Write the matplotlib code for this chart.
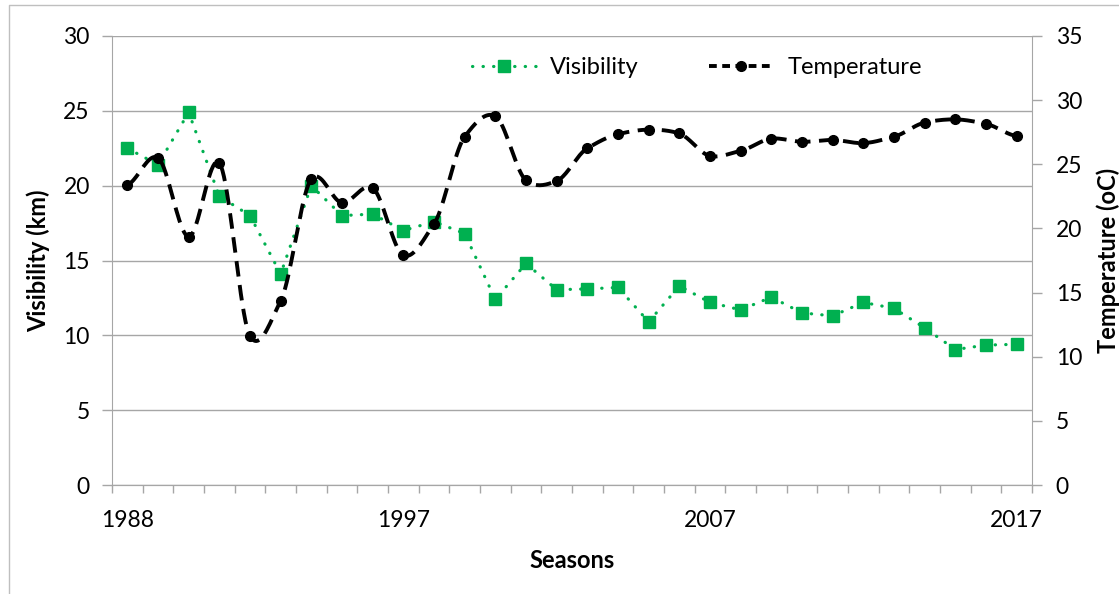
import matplotlib
matplotlib.use("Agg")
import matplotlib.pyplot as plt
from matplotlib.lines import Line2D
import numpy as np

plt.rcParams['font.family'] = ['Lato', 'DejaVu Sans']

seasons = list(range(1988, 2018))
visibility = [22.5, 21.4, 24.9, 19.3, 18.0, 14.1, 20.0, 18.0, 18.1, 17.0,
              17.6, 16.8, 12.4, 14.8, 13.05, 13.1, 13.2, 10.9, 13.3, 12.2,
              11.7, 12.55, 11.5, 11.3, 12.2, 11.8, 10.5, 9.05, 9.35, 9.4]
temperature = [23.4, 25.5, 19.35, 25.1, 11.6, 14.35, 23.85, 22.0, 23.15, 17.9,
               20.35, 27.15, 28.75, 23.75, 23.7, 26.25, 27.35, 27.7, 27.4, 25.65,
               26.05, 27.0, 26.75, 26.9, 26.65, 27.15, 28.25, 28.5, 28.15, 27.2]
tick_years = [1988, 1997, 2007, 2017]

GREEN = '#00B050'
GRID = '#A6A6A6'


def smooth(y, n=20, k=0.75):
    # hermite curve through the points, like excel's "smoothed line"
    y = np.asarray(y, float)
    p = np.concatenate([[y[0]], y, [y[-1]]])
    m = k * (p[2:] - p[:-2]) / 2
    xs, ys = [], []
    for i in range(len(y) - 1):
        t = np.linspace(0, 1, n, endpoint=False)
        h00 = 2 * t**3 - 3 * t**2 + 1
        h10 = t**3 - 2 * t**2 + t
        h01 = -2 * t**3 + 3 * t**2
        h11 = t**3 - t**2
        ys.append(h00 * y[i] + h10 * m[i] + h01 * y[i + 1] + h11 * m[i + 1])
        xs.append(i + t)
    xs.append([len(y) - 1])
    ys.append([y[-1]])
    return np.concatenate(xs), np.concatenate(ys)


x = np.arange(len(seasons))

fig = plt.figure(figsize=(11.19, 5.94), dpi=100)
ax = fig.add_axes([112 / 1119, 1 - 485 / 594, 920 / 1119, 449 / 594])
ax2 = ax.twinx()

ax.plot(x, visibility, color=GREEN, lw=2.3, linestyle=(0, (0.1, 3.2)),
        dash_capstyle='round', marker='s', markersize=8, zorder=3)

sx, sy = smooth(temperature)
ax2.plot(sx, sy, color='black', lw=2.8, linestyle=(0, (4.0, 2.2)), zorder=3)
ax2.plot(x, temperature, 'o', color='black', markersize=7, zorder=4)

ax.set_xlim(-0.5, len(seasons) - 0.5)
ax.set_ylim(0, 30)
ax2.set_ylim(0, 35)
ax.set_yticks(range(0, 31, 5))
ax2.set_yticks(range(0, 36, 5))

ax.set_xticks(np.arange(len(seasons) + 1) - 0.5, minor=False)
ax.set_xticklabels([])
ax.set_xticks([seasons.index(t) for t in tick_years], minor=True)
ax.set_xticklabels([str(t) for t in tick_years], minor=True)
ax.tick_params(axis='x', which='major', length=6, width=1, color=GRID)
ax.tick_params(axis='x', which='minor', length=0, pad=18, labelsize=16.5)
ax.tick_params(axis='y', length=7, width=1, color=GRID, labelsize=16.5, pad=9)
ax2.tick_params(axis='y', length=7, width=1, color=GRID, labelsize=16.5, pad=10)

ax.yaxis.grid(True, color=GRID, lw=1)
ax.set_axisbelow(True)
for a in (ax, ax2):
    a.spines['top'].set_visible(False)
    for s in ('left', 'right', 'bottom'):
        a.spines[s].set_color(GRID)
ax2.spines['left'].set_visible(False)
ax.spines['right'].set_visible(False)

ax.set_ylabel('Visibility (km)', fontsize=17, fontweight='bold')
ax.yaxis.set_label_coords(-62 / 920, 0.5)
ax2.set_ylabel('Temperature (oC)', fontsize=17, fontweight='bold')
ax2.yaxis.set_label_coords(1 + 64 / 920, 0.5)
ax.set_xlabel('Seasons', fontsize=17, fontweight='bold')
ax.xaxis.set_label_coords(0.5, -(549 - 485) / 449)

handles = [
    Line2D([], [], color=GREEN, lw=2.3, linestyle=(0, (0.1, 3.2)),
           dash_capstyle='round', marker='s', markersize=8),
    Line2D([], [], color='black', lw=2.8, linestyle=(0, (2.0, 1.4)),
           marker='o', markersize=7),
]
fig.legend(handles, ['Visibility', 'Temperature'], loc='center',
           bbox_to_anchor=(697 / 1119, 1 - 68 / 594), ncol=2, frameon=False,
           fontsize=17, handlelength=2.7, handletextpad=0.6, columnspacing=3.0)

# chart area border
fig.add_artist(Line2D([9 / 1119, 9 / 1119, 1], [0, 1 - 5 / 594, 1 - 5 / 594],
                      color='#BFBFBF', lw=1, transform=fig.transFigure))

fig.savefig('out.png', dpi=100)
